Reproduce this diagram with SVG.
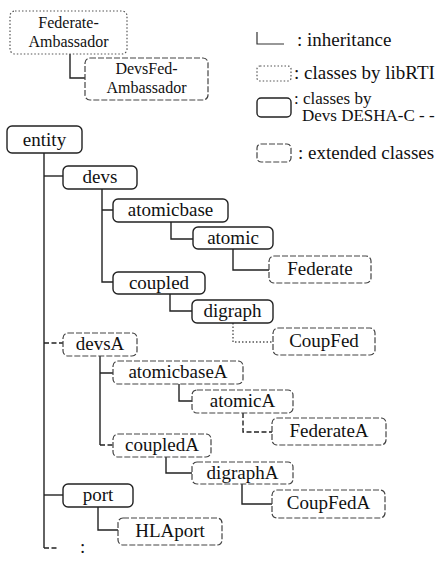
<svg xmlns="http://www.w3.org/2000/svg" width="448" height="561" viewBox="0 0 448 561">
<style>
text{font-family:"Liberation Serif","DejaVu Serif","Times New Roman",serif;font-size:19px;fill:#111}
.n text{text-anchor:middle}
.two text{font-size:16px}
.sm{font-size:17px}
.rti{fill:#fff;stroke:#555;stroke-width:1.2;stroke-dasharray:1.5 2}
.des{fill:#fff;stroke:#222;stroke-width:1.4}
.ext{fill:#fff;stroke:#444;stroke-width:1.2;stroke-dasharray:6 2}
.c path{fill:none;stroke:#222;stroke-width:1.4}
.c .d{stroke-dasharray:5 2.5}
.c .o{stroke-dasharray:1.5 2;stroke:#555}
</style>
<rect width="448" height="561" fill="#fff"/>
<g id="connectors" class="c">
<path d="M70 54V78H85"/>
<path d="M44 153V548"/>
<path class="d" d="M44 548H58"/>
<path d="M44 176H63"/>
<path class="d" d="M44 343H63"/>
<path d="M44 495H63"/>
<path d="M102 189V282H113M102 210H113"/>
<path d="M171 222V239H193"/>
<path d="M233 249V270H269"/>
<path d="M170 294V311H192"/>
<path class="o" d="M233 323V342H273"/>
<path d="M100 356V445M100 373H113"/>
<path class="d" d="M100 445H113"/>
<path d="M179 384V401H192"/>
<path class="d" d="M243 413V432H272"/>
<path d="M166 457V473H192"/>
<path d="M242 484V504H272"/>
<path d="M98 507V530H118"/>
</g>
<g id="FederateAmbassador" class="n two"><rect class="rti" x="10" y="11" width="117" height="43" rx="5"/><text x="68.5" y="28">Federate-<tspan x="68.5" dy="18.5">Ambassador</tspan></text></g>
<g id="DevsFedAmbassador" class="n two"><rect class="ext" x="85" y="58" width="123" height="42" rx="5"/><text x="146.5" y="74">DevsFed-<tspan x="146.5" dy="18.5">Ambassador</tspan></text></g>
<g id="entity" class="n"><rect class="des" x="7" y="126" width="75" height="27" rx="5"/><text x="44.5" y="146">entity</text></g>
<g id="devs" class="n"><rect class="des" x="63" y="166" width="74" height="23" rx="5"/><text x="100" y="183">devs</text></g>
<g id="atomicbase" class="n"><rect class="des" x="113" y="199" width="115" height="23" rx="5"/><text x="170.5" y="216">atomicbase</text></g>
<g id="atomic" class="n"><rect class="des" x="193" y="227" width="80" height="22" rx="5"/><text x="233" y="244">atomic</text></g>
<g id="Federate" class="n"><rect class="ext" x="269" y="256" width="102" height="27" rx="5"/><text x="320" y="275">Federate</text></g>
<g id="coupled" class="n"><rect class="des" x="113" y="272" width="92" height="22" rx="5"/><text x="159" y="289">coupled</text></g>
<g id="digraph" class="n"><rect class="des" x="192" y="300" width="81" height="23" rx="5"/><text x="232.5" y="317">digraph</text></g>
<g id="CoupFed" class="n"><rect class="ext" x="273" y="328" width="102" height="27" rx="5"/><text x="324" y="347">CoupFed</text></g>
<g id="devsA" class="n"><rect class="ext" x="63" y="333" width="74" height="23" rx="5"/><text x="100" y="350">devsA</text></g>
<g id="atomicbaseA" class="n"><rect class="ext" x="113" y="361" width="130" height="23" rx="5"/><text x="178" y="378">atomicbaseA</text></g>
<g id="atomicA" class="n"><rect class="ext" x="192" y="390" width="101" height="23" rx="5"/><text x="242.5" y="407">atomicA</text></g>
<g id="FederateA" class="n"><rect class="ext" x="272" y="418" width="114" height="27" rx="5"/><text x="329" y="437">FederateA</text></g>
<g id="coupledA" class="n"><rect class="ext" x="113" y="434" width="98" height="23" rx="5"/><text x="162" y="451">coupledA</text></g>
<g id="digraphA" class="n"><rect class="ext" x="192" y="462" width="101" height="22" rx="5"/><text x="242.5" y="479">digraphA</text></g>
<g id="CoupFedA" class="n"><rect class="ext" x="272" y="490" width="113" height="28" rx="5"/><text x="328.5" y="509">CoupFedA</text></g>
<g id="port" class="n"><rect class="des" x="63" y="484" width="70" height="23" rx="5"/><text x="98" y="501">port</text></g>
<g id="HLAport" class="n"><rect class="ext" x="118" y="518" width="104" height="27" rx="5"/><text x="170" y="537">HLAport</text></g>
<text x="80" y="553">:</text>
<g id="legend">
<path d="M257 32V44H284" fill="none" stroke="#333" stroke-width="1.2"/>
<text x="297" y="46">: inheritance</text>
<rect class="rti" x="257" y="66" width="34" height="15" rx="3"/>
<text x="294" y="79">: classes by libRTI</text>
<rect class="des" x="257" y="98" width="34" height="19" rx="4"/>
<text class="sm" x="294" y="104">: classes by</text>
<text class="sm" x="302" y="121">Devs DESHA-C - -</text>
<rect class="ext" x="257" y="144" width="34" height="18" rx="4"/>
<text x="298" y="159">: extended classes</text>
</g>
</svg>
